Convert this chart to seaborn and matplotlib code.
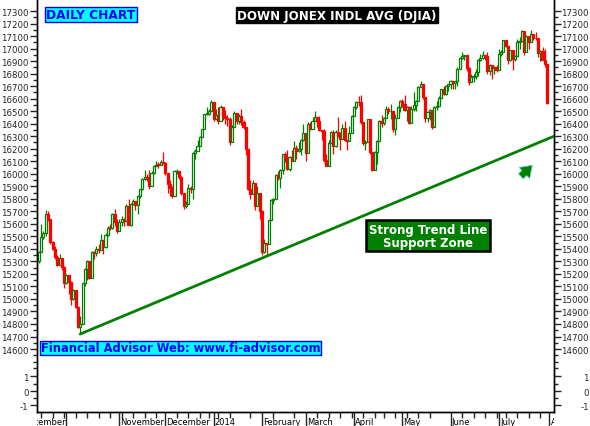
import numpy as np
import pandas as pd
import seaborn as sns
from matplotlib import pyplot as plt
from matplotlib.transforms import Bbox, TransformedBbox

# DJIA daily bars, 13 Sep 2013 .. 31 Jul 2014 (trading days)
first_open = 15300
closes = [
    # Sep 2013
    15376, 15494, 15529, 15676, 15636, 15451, 15401, 15334, 15273, 15328, 15258, 15129,
    # Oct
    15191, 15133, 14996, 15072, 14936, 14776, 14802, 15126, 15237, 15301, 15168, 15373,
    15371, 15399, 15392, 15467, 15413, 15509, 15570, 15568, 15680, 15618, 15546,
    # Nov
    15615, 15639, 15619, 15746, 15593, 15761, 15783, 15751, 15822, 15876, 15962, 15976,
    15968, 15901, 16010, 16065, 16073, 16072, 16097, 16086,
    # Dec
    16008, 15915, 15889, 15822, 16020, 16025, 15974, 15844, 15739, 15755, 15885, 15875,
    16168, 16179, 16221, 16295, 16358, 16479, 16479, 16505, 16577,
    # Jan 2014
    16441, 16470, 16425, 16531, 16463, 16445, 16437, 16257, 16374, 16482, 16418, 16459,
    16415, 16374, 16197, 15879, 15838, 15929, 15739, 15849, 15699,
    # Feb
    15373, 15445, 15440, 15629, 15794, 15802, 15994, 15964, 16027, 16154, 16130, 16040,
    16133, 16104, 16208, 16180, 16198, 16272, 16322,
    # Mar
    16168, 16396, 16361, 16422, 16453, 16418, 16351, 16341, 16109, 16066, 16248, 16337,
    16223, 16332, 16303, 16276, 16368, 16268, 16264, 16324, 16458,
    # Apr
    16533, 16573, 16572, 16413, 16246, 16256, 16437, 16171, 16027, 16174, 16263, 16425,
    16409, 16449, 16514, 16501, 16502, 16361, 16449, 16535, 16581,
    # May
    16559, 16513, 16531, 16402, 16518, 16551, 16583, 16695, 16715, 16613, 16447, 16491,
    16511, 16374, 16533, 16543, 16607, 16676, 16634, 16699, 16717,
    # Jun
    16743, 16722, 16738, 16837, 16924, 16944, 16946, 16844, 16735, 16776, 16782, 16809,
    16907, 16921, 16948, 16937, 16818, 16868, 16846, 16851, 16827,
    # Jul
    16957, 16976, 17068, 17024, 16906, 16985, 16915, 16944, 17055, 17060, 17138, 16976,
    17100, 17051, 17113, 17086, 17083, 16961, 16982, 16912, 16880, 16563,
]
highs = [
    15380, 15600, 15540, 15710, 15700, 15640, 15460, 15420, 15350, 15360, 15330, 15260,
    15200, 15190, 15140, 15080, 15070, 14940, 14860, 15130, 15250, 15310, 15300, 15380,
    15380, 15420, 15440, 15520, 15460, 15530, 15580, 15600, 15690, 15720, 15640,
    15640, 15660, 15650, 15760, 15800, 15770, 15800, 15780, 15830, 15880, 15970, 16030,
    16000, 16030, 16020, 16070, 16100, 16090, 16110, 16170,
    16090, 16000, 15950, 15900, 16030, 16040, 16020, 15980, 15850, 15780, 15920, 15900,
    16170, 16200, 16270, 16300, 16360, 16480, 16530, 16520, 16590,
    16570, 16520, 16530, 16550, 16530, 16510, 16470, 16450, 16390, 16500, 16480, 16480,
    16520, 16430, 16370, 16190, 15950, 15950, 15930, 15900, 15840,
    15710, 15480, 15450, 15630, 15800, 15810, 16000, 16020, 16040, 16160, 16170, 16190,
    16140, 16190, 16260, 16230, 16250, 16280, 16400,
    16320, 16410, 16410, 16450, 16500, 16450, 16460, 16350, 16360, 16160, 16270, 16340,
    16350, 16350, 16450, 16330, 16400, 16420, 16270, 16380, 16470,
    16540, 16580, 16620, 16630, 16410, 16270, 16440, 16440, 16170, 16180, 16270, 16430,
    16470, 16450, 16540, 16530, 16560, 16500, 16480, 16540, 16590,
    16600, 16630, 16540, 16540, 16540, 16650, 16590, 16700, 16740, 16720, 16610, 16500,
    16520, 16510, 16540, 16580, 16620, 16680, 16700, 16710, 16720,
    16750, 16740, 16740, 16850, 16930, 16970, 16950, 16940, 16850, 16800, 16800, 16840,
    16920, 16960, 16980, 16950, 16970, 16880, 16870, 16860, 16870,
    17000, 16990, 17070, 17060, 17020, 16990, 16950, 16950, 17080, 17090, 17150, 17140,
    17110, 17100, 17150, 17120, 17130, 17080, 16990, 17010, 17000, 16870,
]
lows = [
    15291, 15400, 15480, 15500, 15620, 15440, 15390, 15320, 15260, 15270, 15230, 15090,
    15120, 15040, 14950, 14990, 14930, 14770, 14720, 14800, 15100, 15150, 15160, 15170,
    15320, 15340, 15370, 15390, 15360, 15410, 15500, 15550, 15560, 15580, 15530,
    15540, 15580, 15580, 15620, 15590, 15580, 15750, 15710, 15680, 15810, 15870, 15950,
    15940, 15880, 15900, 16000, 16060, 16050, 16070, 16080,
    15990, 15850, 15820, 15810, 15830, 16000, 15960, 15830, 15720, 15730, 15760, 15850,
    15800, 16120, 16180, 16230, 16300, 16360, 16470, 16470, 16500,
    16420, 16440, 16400, 16430, 16430, 16400, 16380, 16230, 16260, 16380, 16400, 16400,
    16390, 16360, 16150, 15870, 15800, 15840, 15710, 15740, 15640,
    15350, 15370, 15340, 15440, 15630, 15760, 15800, 15950, 15890, 16000, 16090, 16030,
    16020, 16100, 16110, 16120, 16170, 16150, 16260,
    16100, 16170, 16350, 16360, 16420, 16370, 16340, 16270, 16090, 16060, 16070, 16250,
    16160, 16210, 16290, 16190, 16280, 16260, 16190, 16270, 16330,
    16460, 16520, 16540, 16400, 16230, 16190, 16250, 16160, 16020, 16030, 16080, 16270,
    16370, 16390, 16450, 16480, 16440, 16330, 16310, 16450, 16490,
    16530, 16500, 16420, 16400, 16410, 16500, 16500, 16590, 16690, 16600, 16410, 16410,
    16430, 16360, 16380, 16510, 16540, 16610, 16630, 16630, 16660,
    16680, 16680, 16680, 16700, 16840, 16920, 16910, 16820, 16710, 16740, 16730, 16760,
    16780, 16900, 16920, 16910, 16800, 16790, 16760, 16800, 16810,
    16830, 16940, 16980, 17010, 16880, 16900, 16830, 16900, 16950, 17000, 17060, 16950,
    16980, 17000, 17060, 17070, 17070, 16930, 16900, 16910, 16850, 16560,
]
holidays = ['2013-11-28', '2013-12-25', '2014-01-01', '2014-01-20',
            '2014-02-17', '2014-04-18', '2014-05-26', '2014-07-04']

# trend line anchors (bar index, price)
trend_x = [18, 224]
trend_y = [14720, 16300]

price_ticks = list(range(14600, 17301, 100))
osc_ticks = [14384, 14264, 14152]
osc_labels = ['1', '0', '-1']
month_labels = ['September', '', 'November', 'December', '2014', 'February',
                'March', 'April', 'May', 'June', 'July', 'August']

dates = pd.bdate_range('2013-09-13', '2014-07-31', freq='C', holidays=holidays)
opens = [first_open] + closes[:-1]
df = pd.DataFrame(dict(date=dates, open=opens, high=highs, low=lows, close=closes))
df['idx'] = np.arange(len(df))
df['up'] = df['close'] >= df['open']

sns.set_style('white')
plt.rcParams['font.family'] = ['DejaVu Sans']

fig = plt.figure(figsize=(5.9, 4.27), dpi=100)
ax = fig.add_axes([37 / 590, 14 / 427, 517 / 590, 413 / 427])

GREEN, RED = '#008000', '#FF0000'
colors = np.where(df['up'], GREEN, RED)
ax.vlines(df['idx'], df['low'], df['high'], colors=colors, lw=0.9, zorder=2)
body_lo = df[['open', 'close']].min(axis=1)
body_h = (df['close'] - df['open']).abs().clip(lower=4)
ax.bar(df['idx'], body_h, bottom=body_lo, width=0.9,
       color=np.where(df['up'], 'white', RED), edgecolor=colors, lw=0.9, zorder=3)

sns.lineplot(x=trend_x, y=trend_y, color=GREEN, lw=2, ax=ax, zorder=4)

ax.set_xlim(-0.8, 224.0)
ylim = (14097, 17396)
ax.set_ylim(*ylim)

# y axis: left labels on ax, right labels on a twin
minor_y = [t + 50 for t in price_ticks[:-1]] + [14550, 14500, 14450, 14324, 14208]
ax2 = ax.twinx()
ax2.set_ylim(*ylim)
for a in (ax, ax2):
    a.set_yticks(price_ticks + osc_ticks)
    a.set_yticklabels([str(t) for t in price_ticks] + osc_labels)
    a.set_yticks(minor_y, minor=True)
ax.tick_params(axis='y', which='major', left=True, right=False, length=5, width=1,
               direction='out', labelsize=6.2, pad=1)
ax.tick_params(axis='y', which='minor', left=True, right=False, length=3, width=1,
               direction='out')
ax2.tick_params(axis='y', which='major', right=True, length=5, width=1,
                direction='out', labelsize=6.2, pad=20)
ax2.tick_params(axis='y', which='minor', right=True, length=3, width=1, direction='out')
for lab in ax2.get_yticklabels():
    lab.set_horizontalalignment('right')

# x axis: month starts (major) and weeks (minor)
month_idx = df.groupby([df['date'].dt.year, df['date'].dt.month])['idx'].min().tolist()
month_pos = [-9] + month_idx[1:] + [len(df)]
week_idx = df.loc[df['date'].dt.dayofweek == 0, 'idx'].tolist()
ax.set_xticks(month_pos[1:])
ax.set_xticklabels([])
ax.set_xticks(week_idx, minor=True)
ax.tick_params(axis='x', which='major', bottom=True, length=14, width=1, direction='out')
ax.tick_params(axis='x', which='minor', bottom=True, length=4, width=1, direction='out')
clip = TransformedBbox(Bbox.from_extents(0, -0.2, 1, 0.1), ax.transAxes)
for pos, lab in zip(month_pos, month_labels):
    txt = ax.text(pos + 0.5, -0.012, lab, transform=ax.get_xaxis_transform(),
                  ha='left', va='top', fontsize=6, color='black', clip_on=True)
    txt.set_clip_box(clip)

for a in (ax, ax2):
    for s in ['left', 'right', 'bottom']:
        a.spines[s].set_color('black')
        a.spines[s].set_linewidth(1)
    a.spines['top'].set_visible(False)

# annotation boxes
ax.text(0.018, 0.978, 'DAILY CHART', transform=ax.transAxes, ha='left', va='top',
        fontsize=8.8, fontweight='bold', color='#0000FF',
        bbox=dict(boxstyle='square,pad=0.1', fc='#00FFFF', ec='#0000FF', lw=1))
ax.text(0.58, 0.976, 'DOWN JONEX INDL AVG (DJIA)', transform=ax.transAxes, ha='center',
        va='top', fontsize=8.6, fontweight='bold', color='white',
        bbox=dict(boxstyle='square,pad=0.12', fc='black', ec='black'))
ax.text(0.007, 0.155, 'Financial Advisor Web: www.fi-advisor.com', transform=ax.transAxes,
        ha='left', va='center', fontsize=8.3, fontweight='bold', color='#0000FF',
        bbox=dict(boxstyle='square,pad=0.08', fc='#00FFFF', ec='#0000FF', lw=1))
ax.text(0.756, 0.427, 'Strong Trend Line\nSupport Zone', transform=ax.transAxes,
        ha='center', va='center', fontsize=8.5, fontweight='bold', color='white',
        linespacing=1.0,
        bbox=dict(boxstyle='square,pad=0.22', fc=GREEN, ec='black', lw=1.8))
ax.annotate('', xy=(0.962, 0.602), xytext=(0.932, 0.566), xycoords='axes fraction',
            arrowprops=dict(arrowstyle='simple,head_width=1.1,head_length=0.8,tail_width=0.5',
                            fc=GREEN, ec='#66CCCC', lw=0.5))

fig.savefig('out.png', dpi=100)
